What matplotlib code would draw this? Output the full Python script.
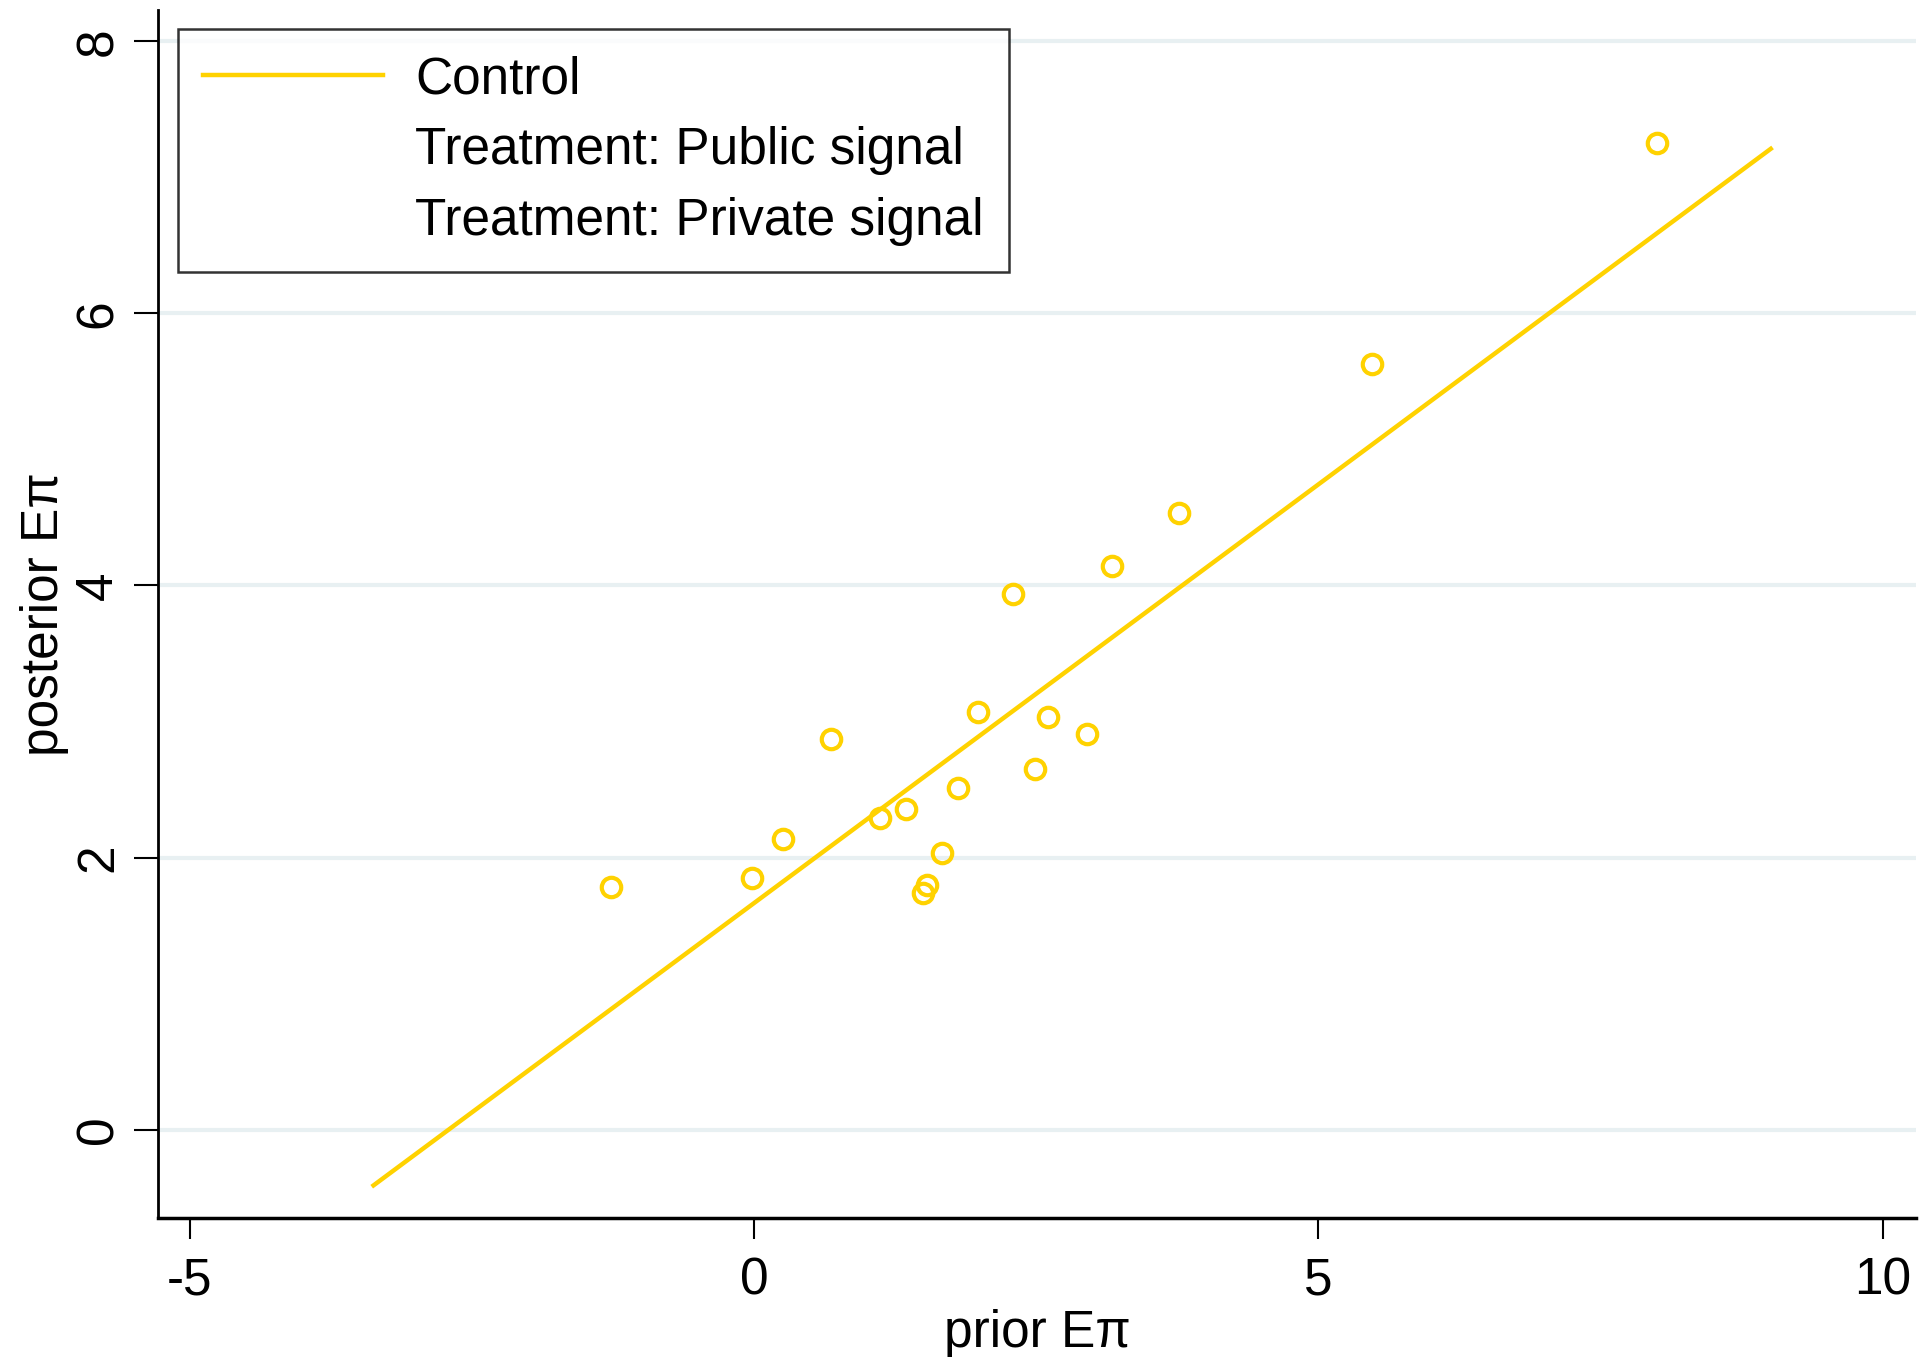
import matplotlib.pyplot as plt
from matplotlib.lines import Line2D

plt.rcParams['font.family'] = ['Liberation Sans', 'DejaVu Sans']

# group means (control)
prior = [-1.27, -0.02, 0.26, 0.68, 1.12, 1.35, 1.50, 1.53, 1.67, 1.81,
         1.99, 2.30, 2.49, 2.61, 2.95, 3.17, 3.77, 5.48, 8.00]
posterior = [1.78, 1.85, 2.14, 2.87, 2.29, 2.36, 1.74, 1.80, 2.03, 2.51,
             3.07, 3.94, 2.65, 3.03, 2.91, 4.14, 4.53, 5.63, 7.25]

# fitted line (control)
fit_x = [-3.37, 9.01]
fit_y = [-0.41, 7.21]

legend_labels = ['Control', 'Treatment: Public signal', 'Treatment: Private signal']
xticks = [-5, 0, 5, 10]
yticks = [0, 2, 4, 6, 8]

gold = '#FFD200'

fig = plt.figure(figsize=(19.26, 13.57), dpi=100)
ax = fig.add_axes([0.082, 0.1024, 0.913, 0.8902])

for y in yticks:
    ax.axhline(y, color='#E8F0F2', linewidth=3, zorder=0)

ax.plot(fit_x, fit_y, color=gold, linewidth=3.2, zorder=2)
ax.plot(prior, posterior, linestyle='none', marker='o', markersize=14,
        markerfacecolor='none', markeredgecolor=gold, markeredgewidth=3, zorder=3)

ax.set_xlim(-5.28, 10.3)
ax.set_ylim(-0.65, 8.23)
ax.set_xticks(xticks)
ax.set_yticks(yticks)
ax.set_xticklabels([str(t) for t in xticks], fontsize=37)
ax.set_yticklabels([str(t) for t in yticks], fontsize=37, rotation=90, va='center')
ax.tick_params(axis='x', length=15, width=1.5, pad=13, direction='out')
ax.tick_params(axis='y', length=17, width=1.5, pad=8, direction='out')

ax.spines['top'].set_visible(False)
ax.spines['right'].set_visible(False)
ax.spines['left'].set_linewidth(2)
ax.spines['bottom'].set_linewidth(2.5)

ax.set_xlabel('prior E\u03c0', fontsize=37, labelpad=2)
ax.set_ylabel('posterior E\u03c0', fontsize=37, labelpad=4)

handles = [Line2D([], [], color=gold, linewidth=3.2),
           Line2D([], [], linestyle='none'),
           Line2D([], [], linestyle='none')]
leg = ax.legend(handles, legend_labels, loc='upper left', bbox_to_anchor=(0.0112, 0.984),
                borderaxespad=0, fontsize=37, frameon=True, fancybox=False,
                handlelength=3.5, handletextpad=0.62, borderpad=0.5, labelspacing=0.43)
leg.get_frame().set_edgecolor('black')
leg.get_frame().set_linewidth(1.8)

plt.savefig('out.png', dpi=100)
